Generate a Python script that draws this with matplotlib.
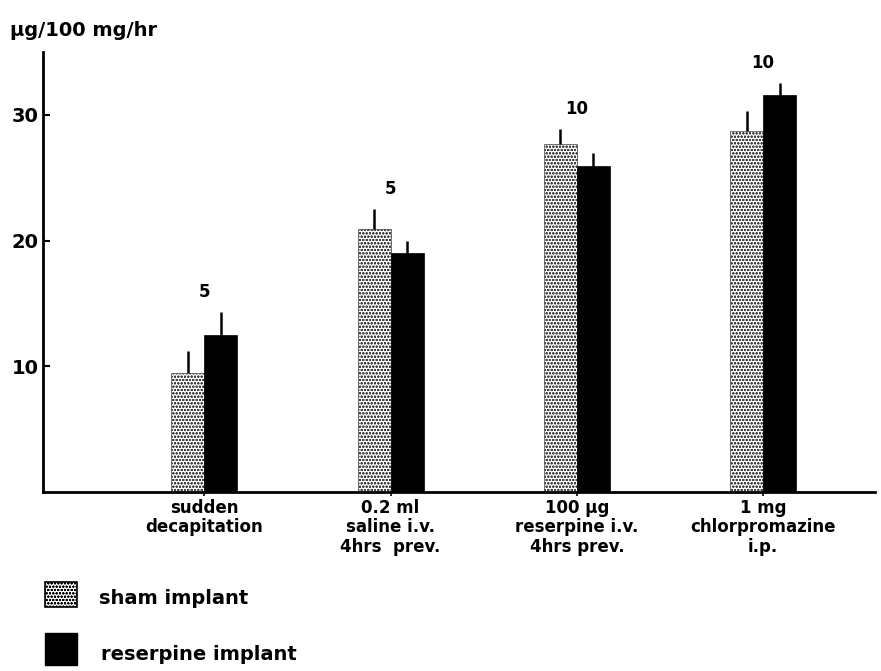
import numpy as np
import matplotlib.pyplot as plt
from matplotlib.patches import Rectangle

plt.rcParams['font.family'] = ['DejaVu Sans']
plt.rcParams['hatch.linewidth'] = 0.6

# data
groups = ['sudden\ndecapitation', '0.2 ml\nsaline i.v.\n4hrs  prev.',
          '100 \u00b5g\nreserpine i.v.\n4hrs prev.', '1 mg\nchlorpromazine\ni.p.']
sham = [9.5, 20.9, 27.7, 28.7]
sham_err = [1.7, 1.6, 1.2, 1.6]
reser = [12.5, 19.0, 25.9, 31.6]
reser_err = [1.8, 1.0, 1.1, 0.9]
n_labels = ['5', '5', '10', '10']

x = np.arange(len(groups))
w = 0.177

fig = plt.figure(figsize=(8.81, 6.71), dpi=100)
ax = fig.add_axes([0.0488, 0.2668, 0.9442, 0.6557])

ax.bar(x - w/2, sham, w, color='white', edgecolor='#444444', hatch='ooooo',
       linewidth=0.5)
ax.bar(x + w/2, reser, w, color='black', edgecolor='black', linewidth=0.5)
# upward error lines only
ax.vlines(x - w/2, sham, np.add(sham, sham_err), color='black', lw=1.8)
ax.vlines(x + w/2, reser, np.add(reser, reser_err), color='black', lw=1.8)

tops = np.maximum(np.add(sham, sham_err), np.add(reser, reser_err))
for xi, t, lab in zip(x, tops, n_labels):
    ax.text(xi, t + 1.6, lab, ha='center', va='center', fontsize=12,
            fontweight='bold')

ax.set_xlim(-0.866, 3.60)
ax.set_ylim(0, 35)
ax.set_yticks([10, 20, 30])
ax.set_yticklabels(['10', '20', '30'], fontsize=14, fontweight='bold')
ax.tick_params(axis='y', direction='in', length=5, width=1.5, pad=3)
ax.set_xticks(x)
ax.set_xticklabels(groups, fontsize=12, fontweight='bold', linespacing=1.1)
ax.tick_params(axis='x', direction='out', length=3, width=1.2, pad=2)
for s in ['top', 'right']:
    ax.spines[s].set_visible(False)
ax.spines['left'].set_linewidth(2)
ax.spines['bottom'].set_linewidth(2)

fig.text(0.011, 0.955, '\u00b5g/100 mg/hr', fontsize=14, fontweight='bold',
         va='center', ha='left')

# legend drawn by hand to match the layout
fig.patches.append(Rectangle((0.051, 0.095), 0.036, 0.037,
                             transform=fig.transFigure, facecolor='white',
                             edgecolor='black', hatch='ooooo', lw=1.2))
fig.patches.append(Rectangle((0.051, 0.009), 0.036, 0.048,
                             transform=fig.transFigure, facecolor='black',
                             edgecolor='black', lw=1))
fig.text(0.112, 0.108, 'sham implant', fontsize=14, fontweight='bold',
         va='center')
fig.text(0.115, 0.025, 'reserpine implant', fontsize=14, fontweight='bold',
         va='center')

fig.savefig('out.png', dpi=100)
